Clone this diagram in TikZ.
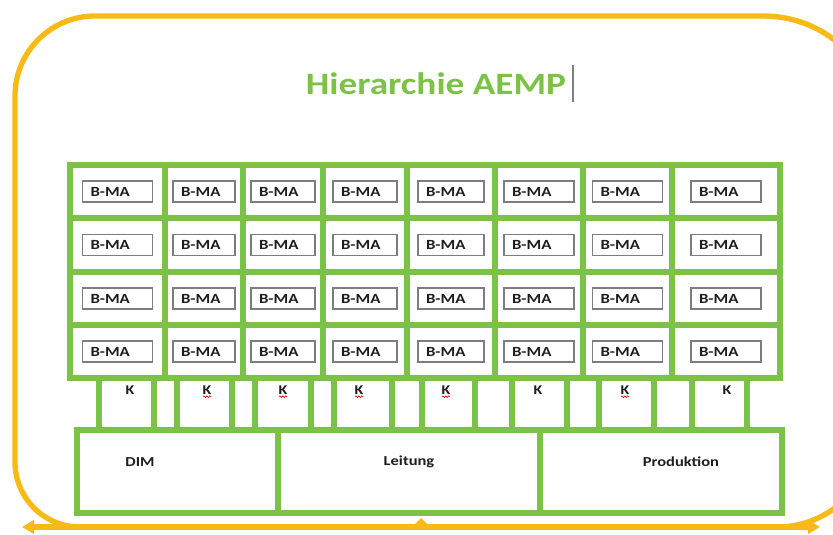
\documentclass[tikz,border=0pt]{standalone}
\usepackage{fontspec}
\setmainfont{Carlito}
\newfontfamily\titlefont{Carlito}[FakeStretch=1.2]
\newfontfamily\labelfont{Carlito}[FakeStretch=1.2]
\usetikzlibrary{arrows.meta,decorations.pathmorphing}
\definecolor{leaf}{RGB}{124,194,70}
\definecolor{amber}{RGB}{250,186,22}
\definecolor{boxgray}{RGB}{125,125,125}
\definecolor{ink}{RGB}{30,30,30}
\tikzset{
  gridline/.style={draw=leaf, line width=4.5pt},
  frameline/.style={draw=amber, line width=4pt},
  bma/.style={draw=boxgray, line width=1.1pt, fill=white, inner xsep=6pt, inner ysep=0pt,
    align=left, minimum height=15.75pt,
    font=\labelfont\bfseries\fontsize{10.5pt}{12pt}\selectfont, text=ink},
  klabel/.style={font=\labelfont\bfseries\fontsize{10pt}{11pt}\selectfont, text=ink, inner sep=0pt},
  seclabel/.style={font=\labelfont\bfseries\fontsize{10.3pt}{12pt}\selectfont, text=ink, inner sep=0pt},
  squiggle/.style={draw=red!80!black, line width=0.5pt,
    decorate, decoration={snake, segment length=2.2pt, amplitude=0.6pt}},
}
\begin{document}
\begin{tikzpicture}[x=0.75pt,y=-0.75pt]
\useasboundingbox (0,0) rectangle (833,535);
\fill[white] (0,0) rectangle (833,535);

\begin{scope}
\clip (0,0) rectangle (833,535);
% rounded outer frame; its right side runs past the page edge
\draw[frameline] (80,527) .. controls (44.1,527) and (15,497.9) .. (15,462)
  -- (15,96) .. controls (15,51.8) and (50.8,16) .. (95,16)
  -- (763,16) .. controls (822,16) and (870,58) .. (870,110)
  -- (870,440) .. controls (870,488) and (828,527) .. (777,527);
\end{scope}
% double arrow along the bottom
\coordinate (aleft) at (22,527);
\coordinate (aright) at (820,527);
\draw[amber, line width=4.5pt, {Triangle[length=9pt,width=10pt]}-{Triangle[length=9pt,width=10pt]}] (aleft) -- (aright);
\fill[amber] (413,526) -- (421,518) -- (429,526) -- cycle;

% title
\node[font=\titlefont\bfseries\fontsize{23.3pt}{26pt}\selectfont, text=leaf, anchor=base, inner sep=0pt]
  (title) at (436,95) {Hierarchie AEMP};
\draw[gray, line width=0.9pt] (573,65) -- (573,102);

% grid of B-MA cells
\foreach \a/\b/\w [count=\i] in {70/165/70, 165/243/62, 243/323/64, 323/407/64,
                                 407/495/66, 495/583/70, 583/672/70, 672/780/70}{
  \foreach \ya/\yb [count=\j] in {165/218, 218/272, 272/325, 325/378}{
    \draw[gridline] (\a,\ya) rectangle (\b,\yb);
    \node[bma, text width=(\w-16)*0.75pt] (b\j-\i) at ({(\a+\b)/2},{(\ya+\yb)/2}) {B-MA};
  }
}

% K row
\foreach \a/\b in {99/154, 154/177, 177/232, 232/255, 255/311, 311/334, 334/392, 392/422,
                   422/475, 475/512, 512/567, 567/599, 599/654, 654/692, 692/747}{
  \draw[gridline] (\a,378) rectangle (\b,430);
}
\foreach \x [count=\i] in {130,207,283,359,446,538,625,727}{
  \node[klabel] (k\i) at (\x,390) {K};
}
\foreach \i in {2,3,4,5,7}{
  \draw[squiggle] ([xshift=-3pt,yshift=-5pt]k\i.center) -- ([xshift=3pt,yshift=-5pt]k\i.center);
}

% bottom sections
\draw[gridline] (77,430) rectangle (278,513);
\draw[gridline] (278,430) rectangle (540,513);
\draw[gridline] (540,430) rectangle (782,513);
\node[seclabel] (dim) at (140,462) {DIM};
\node[seclabel] (leitung) at (409,462) {Leitung};
\node[seclabel] (prod) at (681,462) {Produktion};
\end{tikzpicture}
\end{document}
